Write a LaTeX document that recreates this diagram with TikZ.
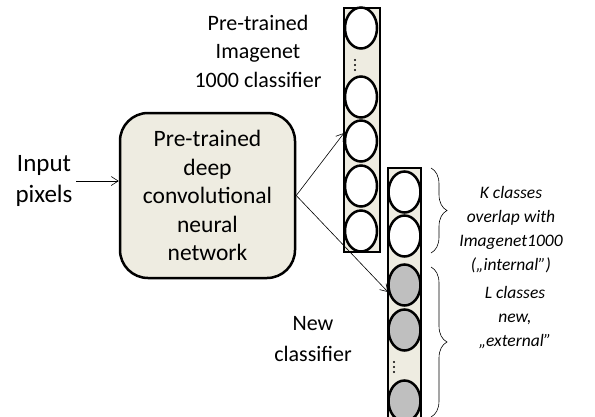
\documentclass[tikz,border=0pt]{standalone}
\usepackage{fontspec}
\setmainfont{Carlito}
\usetikzlibrary{positioning,shapes.geometric,decorations.pathreplacing,arrows.meta}
\definecolor{paper}{HTML}{EEECE1}
\definecolor{unit}{HTML}{BFBFBF}

\begin{document}
\begin{tikzpicture}[x=1pt,y=-1pt,
  column/.style={draw,line width=2.5pt,fill=paper},
  neuron/.style={ellipse,draw,line width=2.5pt,fill=white,minimum width=32pt,minimum height=41pt,inner sep=0pt},
  newneuron/.style={neuron,fill=unit},
  link/.style={-{Straight Barb[length=7pt,width=9pt]},line width=0.6pt},
  txt/.style={align=center,font=\fontsize{22}{28.5}\selectfont},
  note/.style={align=center,font=\fontsize{17.5}{24}\selectfont\itshape},
  bracket/.style={decorate,decoration={brace,amplitude=16pt},line width=0.6pt}]

\useasboundingbox (0,0) rectangle (595,416);

% old classifier
\draw[column] (344,8) rectangle (380,252);
\foreach \n/\y in {1/28,2/97,3/141,4/186,5/231}
  \node[neuron] (old\n) at (361,\y) {};
\foreach \y in {60,65,70}
  \fill (355,\y) circle (1.2pt);

% new classifier
\draw[column] (388,168) rectangle (421,430);
\foreach \n/\y in {1/192,2/236}
  \node[neuron] (new\n) at (404.5,\y) {};
\foreach \n/\y in {3/285,4/330,5/401}
  \node[newneuron] (new\n) at (404.5,\y) {};
\foreach \y in {362,367,372}
  \fill (394,\y) circle (1.2pt);

\node[draw,line width=2.5pt,fill=paper,rounded corners=28pt,minimum width=175pt,minimum height=165pt,txt,font=\fontsize{23.5}{28.5}\selectfont] (cnn) at (207.5,195.5)
  {Pre-trained\\deep\\convolutional\\neural\\network};

\node[txt,font=\fontsize{25}{31}\selectfont] (input) at (44,181) {Input\\pixels};
\node[txt] (oldname) at (258,51) {Pre-trained\\Imagenet\\1000 classifier};
\node[txt,font=\fontsize{22}{31}\selectfont] (newname) at (313,339.5) {New\\classifier};

\coordinate (oldin) at (344,133);
\coordinate (newin) at (388,292);

\draw[link] (input.east) -- (input.east -| cnn.west);
\draw[link] (cnn.east) -- (oldin);
\draw[link] (cnn.east) -- (newin);

% braces
\draw[bracket] (431,168) -- (431,253);
\draw[bracket] (431,267) -- (431,417);
\node[note] (ktext) at (511,229.5) {K classes\\overlap with\\Imagenet1000\\(„internal”)};
\node[note] (ltext) at (515,318) {L classes\\new,\\„external”};

\end{tikzpicture}
\end{document}
